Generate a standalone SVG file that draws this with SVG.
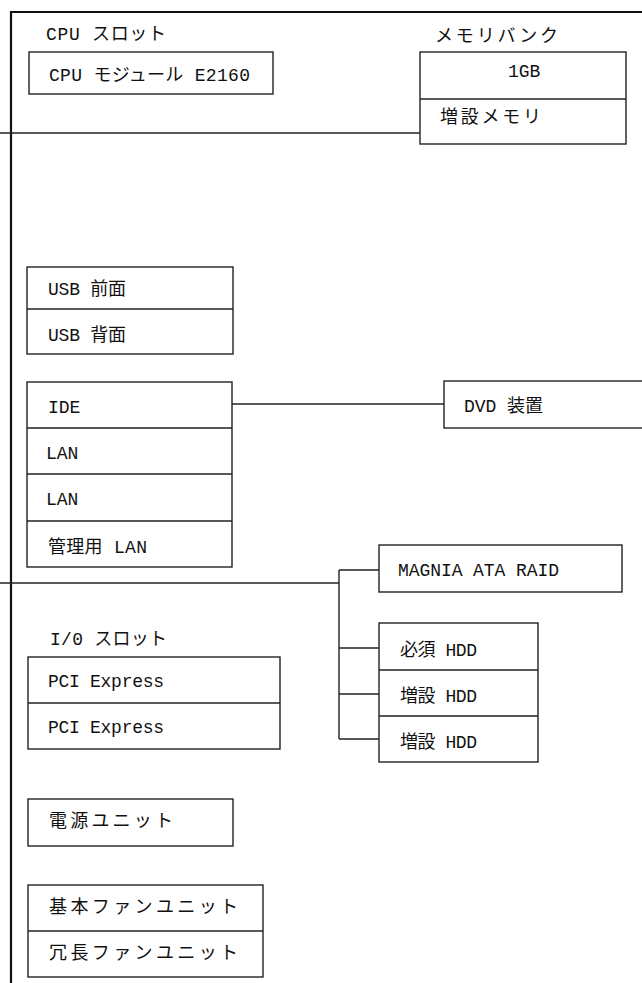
<svg xmlns="http://www.w3.org/2000/svg" width="642" height="983" viewBox="0 0 642 983">
<style>
text{font-family:"Liberation Mono","Noto Sans CJK JP",monospace;font-size:18px;fill:#111}
.b{fill:#fff;stroke:#222;stroke-width:1.4}
.d{stroke:#222;stroke-width:1.4;fill:none}
.frame{stroke:#111;stroke-width:2.2;fill:none}
.c{stroke:#222;stroke-width:1.4;fill:none}
</style>
<rect width="642" height="983" fill="#fff"/>
<g id="frame">
<path class="frame" d="M11 983V12H642"/>
</g>
<g id="connectors">
<path class="c" d="M0 133H420"/>
<path class="c" d="M232 404H444"/>
<path class="c" d="M0 583H339"/>
<path class="c" d="M339 570V739"/>
<path class="c" d="M339 570H379M339 648H379M339 694H379M339 739H379"/>
</g>
<g id="cpu-slot">
<text x="46" y="40" textLength="120" lengthAdjust="spacing">CPU スロット</text>
<rect class="b" x="29" y="52" width="244" height="42"/>
<text x="49" y="81" textLength="201" lengthAdjust="spacing">CPU モジュール E2160</text>
</g>
<g id="memory-bank">
<text x="435" y="42" textLength="123" lengthAdjust="spacing">メモリバンク</text>
<rect class="b" x="420" y="52" width="206" height="92"/>
<path class="d" d="M420 99H626"/>
<text x="508" y="77">1GB</text>
<text x="440" y="123" textLength="101" lengthAdjust="spacing">増設メモリ</text>
</g>
<g id="usb">
<rect class="b" x="27" y="267" width="206" height="87"/>
<path class="d" d="M27 309H233"/>
<text x="48" y="295" textLength="78" lengthAdjust="spacing">USB 前面</text>
<text x="48" y="341" textLength="78" lengthAdjust="spacing">USB 背面</text>
</g>
<g id="io-ports">
<rect class="b" x="27" y="382" width="205" height="185"/>
<path class="d" d="M27 428H232M27 474H232M27 521H232"/>
<text x="48" y="413">IDE</text>
<text x="46" y="459">LAN</text>
<text x="46" y="505">LAN</text>
<text x="48" y="553" textLength="99" lengthAdjust="spacing">管理用 LAN</text>
</g>
<g id="dvd">
<rect class="b" x="444" y="381" width="210" height="47"/>
<text x="464" y="412" textLength="79" lengthAdjust="spacing">DVD 装置</text>
</g>
<g id="raid">
<rect class="b" x="379" y="545" width="243" height="47"/>
<text x="398" y="576" textLength="161" lengthAdjust="spacing">MAGNIA ATA RAID</text>
</g>
<g id="hdd">
<rect class="b" x="379" y="623" width="159" height="139"/>
<path class="d" d="M379 670H538M379 716H538"/>
<text x="400" y="656" textLength="77" lengthAdjust="spacing">必須 HDD</text>
<text x="400" y="702" textLength="77" lengthAdjust="spacing">増設 HDD</text>
<text x="400" y="748" textLength="77" lengthAdjust="spacing">増設 HDD</text>
</g>
<g id="io-slot">
<text x="50" y="645" textLength="117" lengthAdjust="spacing">I/0 スロット</text>
<rect class="b" x="28" y="657" width="252" height="92"/>
<path class="d" d="M28 703H280"/>
<text x="48" y="687" textLength="116" lengthAdjust="spacing">PCI Express</text>
<text x="48" y="733" textLength="116" lengthAdjust="spacing">PCI Express</text>
</g>
<g id="power">
<rect class="b" x="28" y="799" width="205" height="47"/>
<text x="49" y="827" textLength="124" lengthAdjust="spacing">電源ユニット</text>
</g>
<g id="fan">
<rect class="b" x="28" y="885" width="235" height="92"/>
<path class="d" d="M28 931H263"/>
<text x="49" y="913" textLength="189" lengthAdjust="spacing">基本ファンユニット</text>
<text x="49" y="959" textLength="189" lengthAdjust="spacing">冗長ファンユニット</text>
</g>
</svg>
